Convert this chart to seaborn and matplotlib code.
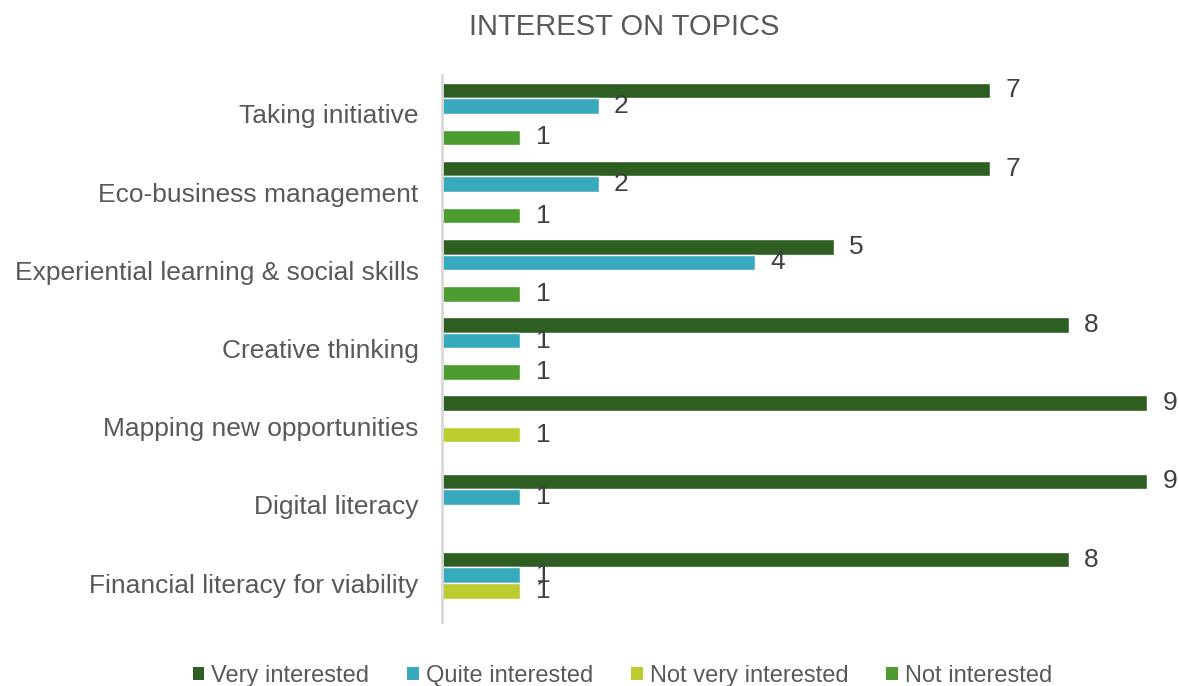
import matplotlib
matplotlib.use("Agg")
import matplotlib.pyplot as plt
import seaborn as sns
import pandas as pd
from matplotlib.patches import Patch

topics = ["Taking initiative", "Eco-business management", "Experiential learning & social skills",
          "Creative thinking", "Mapping new opportunities", "Digital literacy",
          "Financial literacy for viability"]
levels = ["Very interested", "Quite interested", "Not very interested", "Not interested"]
very = [7, 7, 5, 8, 9, 9, 8]
quite = [2, 2, 4, 1, 0, 1, 1]
not_very = [0, 0, 0, 0, 1, 0, 1]
not_int = [1, 1, 1, 1, 0, 0, 0]
colors = ["#2e5e22", "#38aabd", "#bccb2e", "#4c9c30"]

rows = []
for series, name in zip([very, quite, not_very, not_int], levels):
    for t, v in zip(topics, series):
        rows.append({"topic": t, "level": name, "value": v})
df = pd.DataFrame(rows)

sns.set_theme(style="white")
plt.rcParams['font.family'] = ['Liberation Sans', 'DejaVu Sans']

fig = plt.figure(figsize=(11.79, 6.86), dpi=100)
ax = fig.add_axes([0.375, 0.093, 0.598, 0.798])
sns.barplot(data=df, y="topic", x="value", hue="level", orient="h", order=topics,
            hue_order=levels, palette=colors, width=0.8, dodge=True, ax=ax,
            saturation=1, legend=False, errorbar=None)

for cont in ax.containers:
    labels = [f"{int(b.get_width())}" if b.get_width() > 0 else "" for b in cont]
    ax.bar_label(cont, labels=labels, padding=11, fontsize=19, color="#404040", clip_on=False)

ax.set_xlim(0, 9)
ax.set_ylim(6.5, -0.5)
ax.set_xlabel("")
ax.set_ylabel("")
ax.set_xticks([])
ax.tick_params(axis="y", labelsize=19, colors="#595959", length=0, pad=17)
for s in ["top", "right", "bottom"]:
    ax.spines[s].set_visible(False)
ax.spines["left"].set_color("#d9d9d9")
ax.spines["left"].set_linewidth(2)

fig.text(0.529, 0.96, "INTEREST ON TOPICS", ha="center", va="center", fontsize=21, color="#595959")

handles = [Patch(facecolor=c, edgecolor="none") for c in colors]
leg = fig.legend(handles, levels, loc="center", bbox_to_anchor=(0.528, 0.015), ncol=4, frameon=False,
                 fontsize=17, handlelength=0.5, handleheight=0.5, handletextpad=0.3, columnspacing=1.6)
for t in leg.get_texts():
    t.set_color("#595959")

fig.savefig("out.png", dpi=100)
